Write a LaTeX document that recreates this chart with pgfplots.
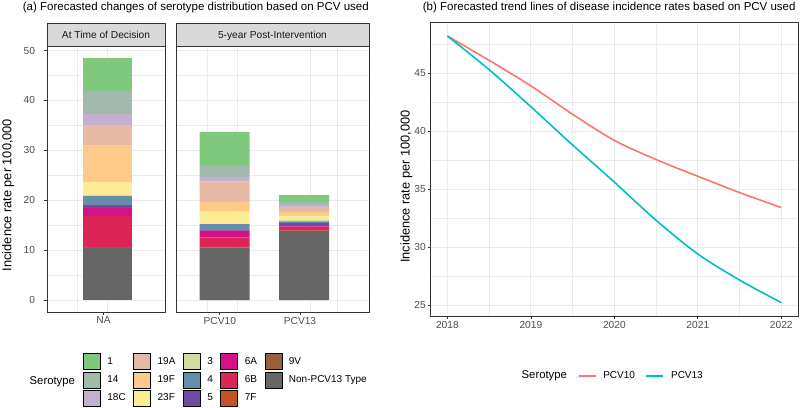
\documentclass[border=0pt]{standalone}
\usepackage{pgfplots}
\pgfplotsset{compat=1.18}
\usepackage{pgfplotstable}
\usepackage{fontspec}
\setmainfont{Liberation Sans}

\definecolor{c1}{HTML}{7FC97F}
\definecolor{c14}{HTML}{A1BAAD}
\definecolor{c18C}{HTML}{C3AFCE}
\definecolor{c19A}{HTML}{E5B9A4}
\definecolor{c19F}{HTML}{FDCA89}
\definecolor{c23F}{HTML}{FEEC93}
\definecolor{c3}{HTML}{D1DD9E}
\definecolor{c4}{HTML}{668EAB}
\definecolor{c5}{HTML}{714BA1}
\definecolor{c6A}{HTML}{D41287}
\definecolor{c6B}{HTML}{DD2457}
\definecolor{c7F}{HTML}{C3541F}
\definecolor{c9V}{HTML}{96603B}
\definecolor{cnon}{HTML}{666666}
\definecolor{grey20}{HTML}{333333}
\definecolor{grey30}{HTML}{4D4D4D}
\definecolor{grey10}{HTML}{1A1A1A}
\definecolor{grey85}{HTML}{D9D9D9}
\definecolor{grey92}{HTML}{EBEBEB}
\definecolor{red10}{HTML}{F8766D}
\definecolor{teal13}{HTML}{00BFC4}

% facet 1: At Time of Decision
\pgfplotstableread{
x    non   s9V  s7F  s6B  s6A  s5   s4   s3   s23F s19F s19A s18C s14  s1
60.5 10.5  0.05 0.1  6.2  1.6  0.6  1.8  0.1  2.6  7.6  4.0  2.1  4.7  6.6
}\facetA
% facet 2: 5-year Post-Intervention (PCV10, PCV13)
\pgfplotstableread{
x    non   s9V  s7F  s6B  s6A  s5   s4   s3   s23F s19F s19A s18C s14  s1
48.5 10.4  0.05 0.05 2.0  1.4  0.1  1.2  0.1  2.4  1.9  4.1  1.0  2.2  6.8
128  13.85 0.02 0.02 0.7  0.15 0.7  0.3  0.3  0.7  0.9  1.0  0.4  0.6  1.4
}\facetB
% trend lines
\pgfplotstableread{
year   pcv10  pcv13
2018   48.2   48.2
2018.5 46.1   45.3
2019   43.9   42.1
2019.5 41.45  38.8
2020   39.2   35.6
2020.5 37.55  32.3
2021   36.1   29.4
2021.5 34.7   27.15
2022   33.4   25.2
}\trend

\pgfplotsset{
  gg/.style={
    scale only axis,
    axis line style={draw=grey20, line width=0.9pt},
    tick style={draw=grey20, line width=0.7pt},
    major tick length=2.75pt,
    minor tick length=0pt,
    tick align=outside,
    xtick pos=lower, ytick pos=left,
    major grid style={draw=grey92, line width=0.9pt},
    minor grid style={draw=grey92, line width=0.5pt},
    /pgf/number format/assume math mode=true,
    every tick label/.append style={font=\fontsize{10.2}{12}\selectfont, text=grey30, inner sep=2pt},
  },
  facet/.style={
    gg, ybar stacked, anchor=south west,
    height=266pt, ymin=-2.4, ymax=50.9,
    ytick={0,10,20,30,40,50}, minor ytick={5,15,25,35,45},
    ymajorgrids, yminorgrids, xminorgrids,
  },
}

\newcommand{\stackbars}[1]{%
  \addplot[fill=cnon, draw=none, forget plot] table[x=x,y=non]{#1};
  \addplot[fill=c9V, draw=none, forget plot] table[x=x,y=s9V]{#1};
  \addplot[fill=c7F, draw=none, forget plot] table[x=x,y=s7F]{#1};
  \addplot[fill=c6B, draw=none, forget plot] table[x=x,y=s6B]{#1};
  \addplot[fill=c6A, draw=none, forget plot] table[x=x,y=s6A]{#1};
  \addplot[fill=c5, draw=none, forget plot] table[x=x,y=s5]{#1};
  \addplot[fill=c4, draw=none, forget plot] table[x=x,y=s4]{#1};
  \addplot[fill=c3, draw=none, forget plot] table[x=x,y=s3]{#1};
  \addplot[fill=c23F, draw=none, forget plot] table[x=x,y=s23F]{#1};
  \addplot[fill=c19F, draw=none, forget plot] table[x=x,y=s19F]{#1};
  \addplot[fill=c19A, draw=none, forget plot] table[x=x,y=s19A]{#1};
  \addplot[fill=c18C, draw=none, forget plot] table[x=x,y=s18C]{#1};
  \addplot[fill=c14, draw=none, forget plot] table[x=x,y=s14]{#1};
  \addplot[fill=c1, draw=none, forget plot] table[x=x,y=s1]{#1};
}

\begin{document}
\begin{tikzpicture}
\useasboundingbox (0,0) rectangle (800pt,407pt);

% ---- facet 1
\begin{axis}[facet, at={(47pt,95pt)}, width=118pt,
  xmin=0, xmax=118, xtick={56.5}, xticklabels={NA},
  minor xtick={30,60}, bar width=49pt,
  yticklabel style={xshift=-7pt},
  legend columns=5, legend cell align=left,
  legend image code/.code={\fill[#1] (0pt,-8pt) rectangle (17pt,8pt);},
  legend style={at={(0.3051,-0.1553)}, anchor=north west, draw=none, fill=none,
    inner sep=0pt, outer sep=0pt, row sep=1.8pt,
    font=\fontsize{10}{12}\selectfont, nodes={inner sep=0pt},
    /tikz/every odd column/.append style={column sep=7pt},
    /tikz/every even column/.append style={column sep=7.5pt}},
]
\stackbars{\facetA}
\addlegendimage{fill=c1}\addlegendentry{1}
\addlegendimage{fill=c19A}\addlegendentry{19A}
\addlegendimage{fill=c3}\addlegendentry{3}
\addlegendimage{fill=c6A}\addlegendentry{6A}
\addlegendimage{fill=c9V}\addlegendentry{9V}
\addlegendimage{fill=c14}\addlegendentry{14}
\addlegendimage{fill=c19F}\addlegendentry{19F}
\addlegendimage{fill=c4}\addlegendentry{4}
\addlegendimage{fill=c6B}\addlegendentry{6B}
\addlegendimage{fill=cnon}\addlegendentry{Non-PCV13 Type}
\addlegendimage{fill=c18C}\addlegendentry{18C}
\addlegendimage{fill=c23F}\addlegendentry{23F}
\addlegendimage{fill=c5}\addlegendentry{5}
\addlegendimage{fill=c7F}\addlegendentry{7F}
\end{axis}

% ---- facet 2
\begin{axis}[facet, at={(176pt,95pt)}, width=193pt,
  xmin=0, xmax=193, xtick={43.8,124}, xticklabels={PCV10,PCV13},
  minor xtick={31,61,134,161}, bar width=50pt,
  yticklabels={}, ytick style={draw=none},
]
\stackbars{\facetB}
\end{axis}

% ---- line chart
\begin{axis}[gg, anchor=south west, at={(430.7pt,91pt)}, width=367.3pt, height=293.3pt,
  xmin=2017.8, xmax=2022.2, ymin=24.05, ymax=49.35,
  xtick={2018,2019,2020,2021,2022}, minor xtick={2018.5,2019.5,2020.5,2021.5},
  ytick={25,30,35,40,45}, minor ytick={27.5,32.5,37.5,42.5,47.5},
  grid=both,
  xticklabel style={/pgf/number format/1000 sep={}},
  legend columns=2, legend cell align=left,
  legend image code/.code={\draw[#1] (0pt,0pt) -- (17pt,0pt);},
  legend style={at={(0.4002,-0.2046)}, anchor=west, draw=none, fill=none,
    inner sep=0pt, outer sep=0pt,
    font=\fontsize{10}{12}\selectfont, nodes={inner sep=0pt},
    /tikz/every odd column/.append style={column sep=7pt},
    /tikz/every even column/.append style={column sep=10.5pt}},
]
\addplot[red10, line width=1.6pt, smooth] table[x=year,y=pcv10]{\trend};
\addlegendentry{PCV10}
\addplot[teal13, line width=1.6pt, smooth] table[x=year,y=pcv13]{\trend};
\addlegendentry{PCV13}
\end{axis}

% strips
\filldraw[fill=grey85, draw=grey20, line width=0.9pt] (47pt,361pt) rectangle (165pt,384pt);
\filldraw[fill=grey85, draw=grey20, line width=0.9pt] (176pt,361pt) rectangle (369pt,384pt);
\node[anchor=base, font=\fontsize{10.2}{12}\selectfont, text=grey10, inner sep=0pt] at (106pt,368pt) {At Time of Decision};
\node[anchor=base, font=\fontsize{10.2}{12}\selectfont, text=grey10, inner sep=0pt] at (272.5pt,368pt) {5-year Post-Intervention};

% titles
\node[anchor=base west, font=\fontsize{11.5}{13}\selectfont, inner sep=0pt] at (22.7pt,396.8pt) {(a) Forecasted changes of serotype distribution based on PCV used};
\node[anchor=base west, font=\fontsize{11.5}{13}\selectfont, inner sep=0pt] at (422.7pt,396.8pt) {(b) Forecasted trend lines of disease incidence rates based on PCV used};

% axis titles
\node[rotate=90, anchor=base, font=\fontsize{12.8}{14}\selectfont, inner sep=0pt] at (11.5pt,212pt) {Incidence rate per 100,000};
\node[rotate=90, anchor=base, font=\fontsize{12.8}{14}\selectfont, inner sep=0pt] at (409.5pt,220.3pt) {Incidence rate per 100,000};

% legend titles
\node[anchor=west, font=\fontsize{11.3}{13}\selectfont, inner sep=0pt] at (29.5pt,25.5pt) {Serotype};
\node[anchor=west, font=\fontsize{11.3}{13}\selectfont, inner sep=0pt] at (521.5pt,31pt) {Serotype};
\end{tikzpicture}
\end{document}
